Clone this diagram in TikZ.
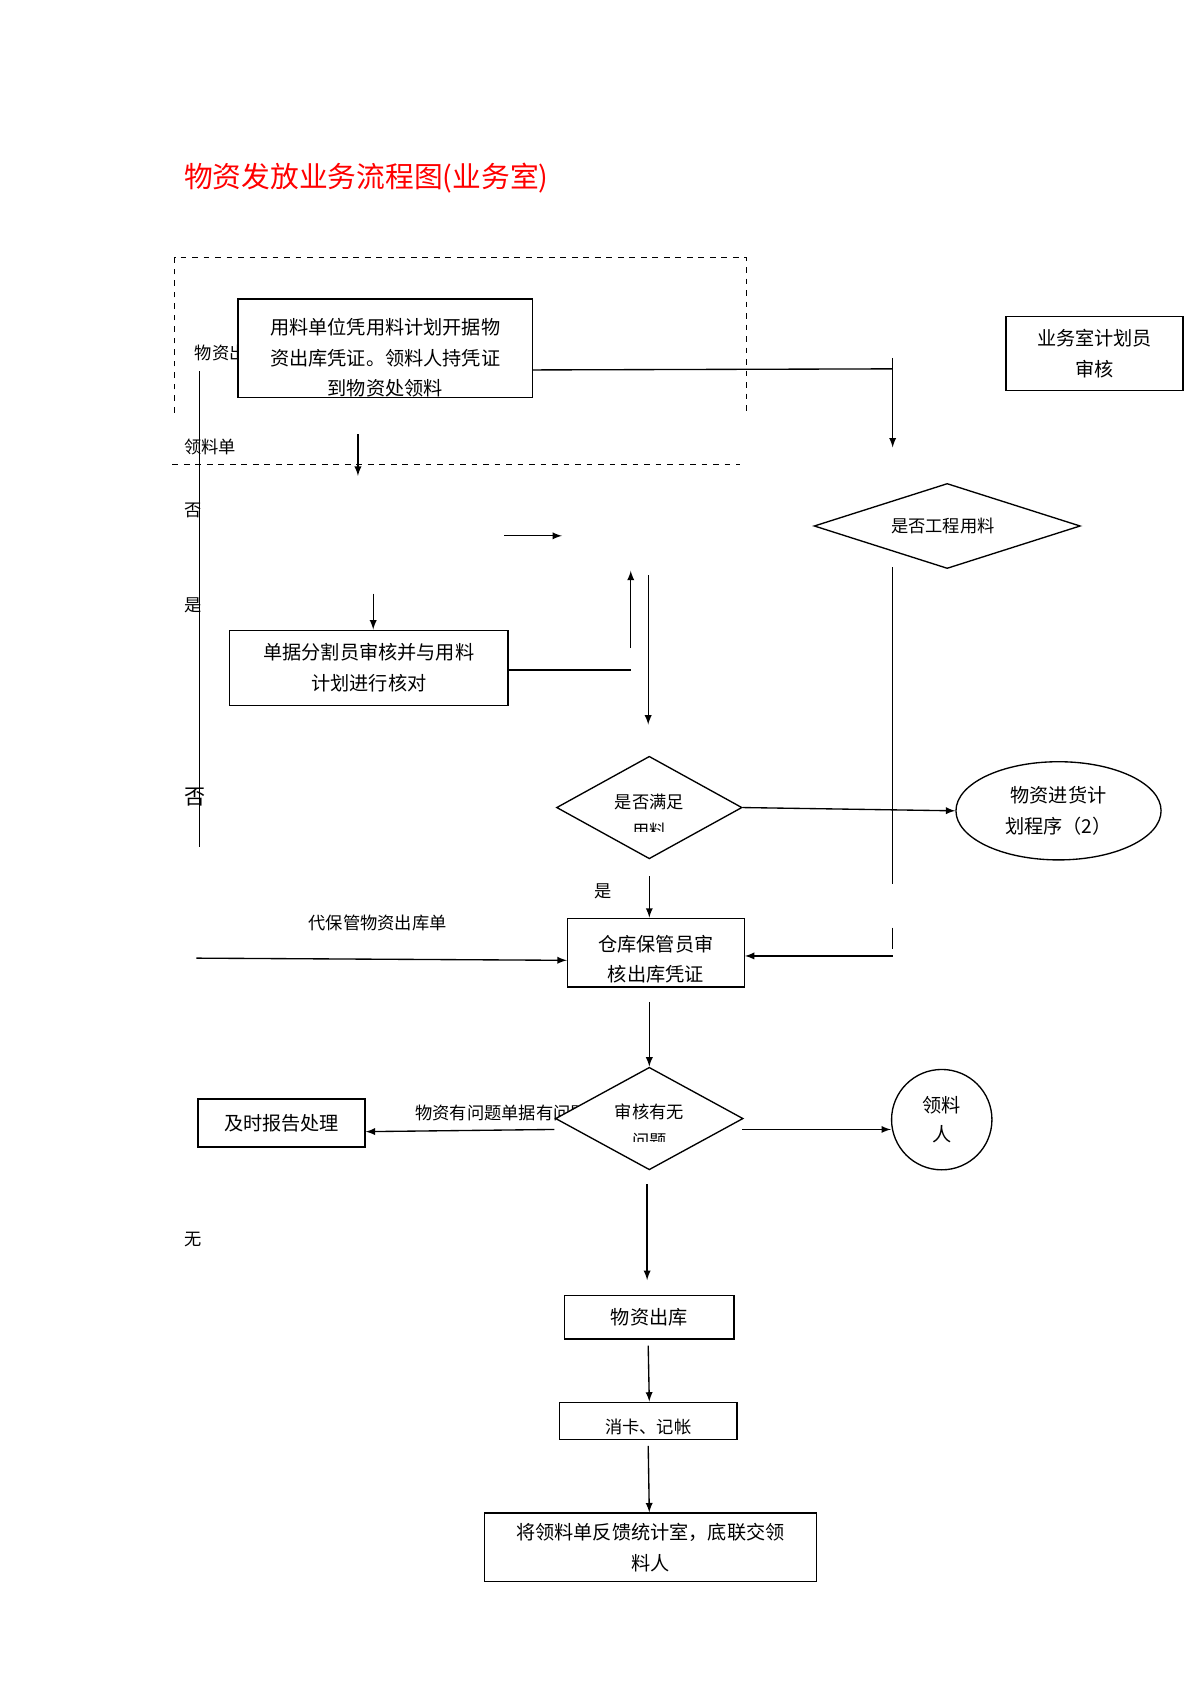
\documentclass[tikz,border=0pt]{standalone}
\usepackage{fontspec}
\setmainfont{Noto Sans CJK SC}
\usetikzlibrary{shapes.geometric,arrows}
\begin{document}
\begin{tikzpicture}[x=0.02cm, y=-0.02cm, line width=0.7pt, font=\fontsize{9}{15}\selectfont,
                    box/.style = {draw, rectangle, inner sep=0pt},
                    choice/.style = {draw, diamond, fill=white, aspect=1.8, inner sep=0pt},
                    note/.style = {anchor=west, inner sep=0pt},
                    big/.style = {font=\fontsize{10}{16}\selectfont},
                    arr/.style = {-latex}]
%%%%%
\useasboundingbox (0,0) rectangle (1100,1556);

\node [note, text=red, font=\fontsize{15}{18}\selectfont] (title) at (168,163) {物资发放业务流程图(业务室)};

% dashed frame
\draw [dashed, line width=0.5pt] (160,378) -- (160,236) -- (684,236) -- (684,380);
\draw [dashed, line width=0.5pt] (158,426) -- (678,426);

\node [note] (lwz) at (178,323) {物资出};
\node [box, fill=white, minimum width=5.4cm, minimum height=1.8cm] (apply) at (353,319) {};
\begin{scope}
  \clip (218,274) rectangle (488,364);
  \node [big, align=center] at (353,328) {用料单位凭用料计划开据物\\资出库凭证。领料人持凭证\\到物资处领料};
\end{scope}

\node [box, big, minimum width=3.24cm, minimum height=1.36cm, align=center] (plan) at (1003,324) {业务室计划员\\审核};
\node [choice, minimum width=4.88cm, minimum height=1.56cm] (proj) at (868,482) {};
\node at (864,482) {是否工程用料};

\node [note] (lld) at (168,410) {领料单};
\node [note] (no1) at (168,468) {否};
\node [note] (yes1) at (168,555) {是};
\node [note, font=\fontsize{11}{13}\selectfont] (no2) at (168,730) {否};
\node [note] (none) at (168,1136) {无};

\node [box, big, minimum width=5.1cm, minimum height=1.38cm, align=center] (split) at (338,612) {单据分割员审核并与用料\\计划进行核对};

\node [choice, minimum width=3.4cm, minimum height=1.88cm] (enough) at (595,740) {};
\begin{scope}
  \clip (520,720) rectangle (670,762);
  \node [align=center] at (595,748) {是否满足\\用料};
\end{scope}
\node [draw, big, ellipse, minimum width=3.76cm, minimum height=1.8cm, align=center] (buy) at (970,743) {物资进货计\\划程序（2）};

\node (yes2) at (553,817) {是};
\node (dbg) at (346,846) {代保管物资出库单};
\node [box, minimum width=3.24cm, minimum height=1.26cm] (keeper) at (601,873) {};
\begin{scope}
  \clip (520,842) rectangle (682,905);
  \node [align=center, font=\fontsize{10}{16}\selectfont] at (601,879) {仓库保管员审\\核出库凭证};
\end{scope}

\node [note] (prob) at (380,1020) {物资有问题单据有问题};
\node [choice, minimum width=3.44cm, minimum height=1.88cm] (check) at (595,1025) {};
\begin{scope}
  \clip (525,1005) rectangle (665,1046);
  \node [align=center] at (595,1032) {审核有无\\问题};
\end{scope}
\node [box, minimum width=3.06cm, minimum height=0.88cm, font=\fontsize{10}{12}\selectfont] (report) at (258,1029) {及时报告处理};
\node [draw, circle, minimum size=1.84cm, align=center, font=\fontsize{10}{15}\selectfont] (taker) at (863,1026) {领料\\人};

\node [box, minimum width=3.1cm, minimum height=0.8cm, font=\fontsize{10}{12}\selectfont] (out) at (595,1207) {物资出库};
\node [box, minimum width=3.26cm, minimum height=0.68cm] (card) at (594,1302) {};
\begin{scope}
  \clip (513,1285) rectangle (676,1319);
  \node at (594,1308) {消卡、记帐};
\end{scope}
\node [box, minimum width=6.08cm, minimum height=1.26cm, align=center, font=\fontsize{10}{16}\selectfont] (back) at (596,1418) {将领料单反馈统计室，底联交领\\料人};

% connectors
\coordinate (c1) at (818,338);
\coordinate (c2) at (818,410);
\draw (apply.east |- 0,339) -- (c1);
\draw [arr] (818,328) -- (c2);
\draw (183,340) -- (183,776);
\draw [arr] (328,398) -- (328,436);
\draw [arr] (462,491) -- (515,491);
\draw [arr] (578,594) -- (578,523);
\draw (split.east |- 0,614) -- (578,614);
\draw [arr] (342,544) -- (split.north -| 342,0);
\draw [arr] (594,527) -- (594,664);
\draw [arr] (enough.east) -- (buy.west);
\draw (818,520) -- (818,810);
\draw (818,850) -- (818,870);
\draw [arr] (818,876) -- (keeper.east |- 0,876);
\draw [arr] (595,803) -- (keeper.north -| 595,0);
\draw [arr] (180,878) -- (keeper.west |- 0,880);
\draw [arr] (595,918) -- (check.north);
\draw [arr] (508,1035) -- (report.east |- 0,1037);
\draw [arr] (680,1035) -- (taker.west |- 0,1035);
\draw [arr] (593,1085) -- (593,1173);
\draw [arr] (594,1233) -- (card.north -| 595,0);
\draw [arr] (594,1325) -- (back.north -| 595,0);

\end{tikzpicture}
\end{document}
